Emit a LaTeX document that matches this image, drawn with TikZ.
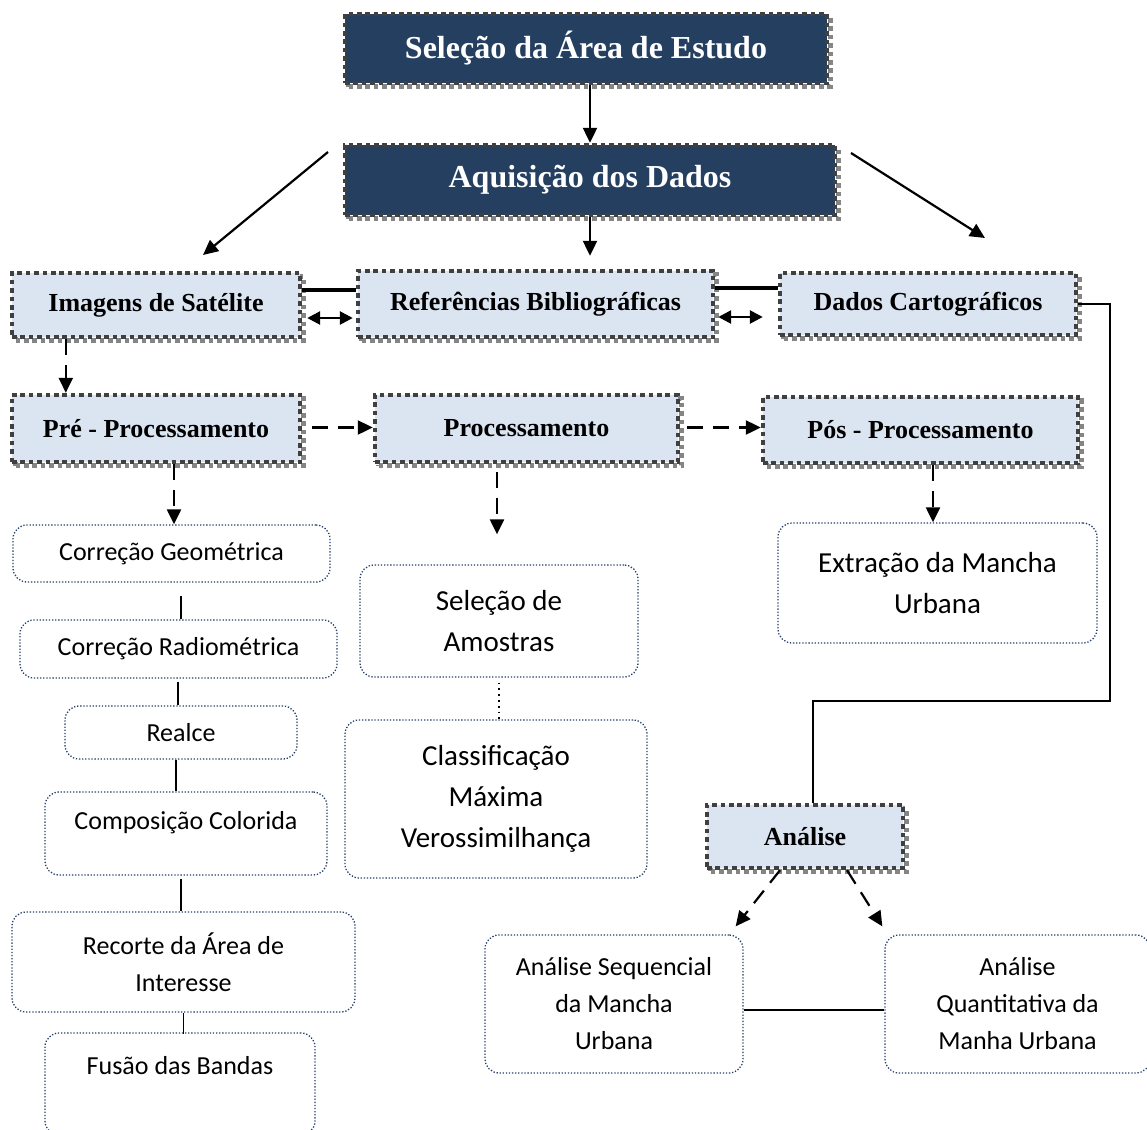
\documentclass[tikz,border=0pt]{standalone}
\usepackage{fontspec}
\setmainfont{Liberation Serif}
\newfontfamily\calib{Carlito}
\usetikzlibrary{arrows.meta, calc, positioning}

\definecolor{navy}{HTML}{243F60}
\definecolor{paleblue}{HTML}{DBE5F1}
\definecolor{framegray}{HTML}{404040}
\definecolor{shadegray}{HTML}{858585}
\definecolor{dotblue}{HTML}{243F6A}

\begin{document}
\begin{tikzpicture}[x=0.5pt, y=-0.5pt,
	stepframe/.style={rectangle, inner sep=0pt, draw=framegray, line width=2.2pt, dash pattern=on 2.3pt off 1.9pt,
		preaction={draw=shadegray, line width=2.2pt, dash pattern=on 2.3pt off 1.9pt, transform canvas={shift={(1.8pt,-1.8pt)}}}},
	darkbox/.style={stepframe, fill=navy, text=white, font=\bfseries\fontsize{16}{19}\selectfont},
	lightbox/.style={stepframe, fill=paleblue, font=\bfseries\fontsize{13}{15}\selectfont},
	taskbox/.style={rectangle, rounded corners=7pt, draw=dotblue, line width=0.65pt, dash pattern=on 0.65pt off 0.9pt,
		align=center, inner sep=0pt, font=\calib\fontsize{13}{18.5}\selectfont},
	bigtask/.style={taskbox, font=\calib\fontsize{14.5}{20.5}\selectfont},
	arr/.style={-{Triangle[length=7.5pt, width=7pt]}, line width=1.1pt},
	darr/.style={arr, dash pattern=on 8pt off 5pt},
	twoway/.style={{Triangle[length=6.5pt, width=6.5pt]}-{Triangle[length=6.5pt, width=6.5pt]}, line width=1.3pt},
	link/.style={line width=0.9pt}]

	\useasboundingbox (0, 0) rectangle (1147, 1130);

	% main chain
	\node[darkbox, minimum width=241pt, minimum height=34.5pt] (area) at (586, 48.5) {Seleção da Área de Estudo};
	\node[darkbox, minimum width=245pt, minimum height=35pt] (aquis) at (590, 180) {Aquisição dos Dados};

	\node[lightbox, minimum width=144pt, minimum height=32pt] (sat) at (156, 305) {Imagens de Satélite};
	\node[lightbox, minimum width=177.5pt, minimum height=33pt] (biblio) at (535.5, 304) {Referências Bibliográficas};
	\node[lightbox, minimum width=148pt, minimum height=31pt] (carto) at (928, 304) {Dados Cartográficos};

	\node[lightbox, minimum width=144pt, minimum height=33.5pt] (pre) at (156, 428.5) {Pré - Processamento};
	\node[lightbox, minimum width=151.5pt, minimum height=33.5pt] (proc) at (526.5, 428.5) {Processamento};
	\node[lightbox, minimum width=157.5pt, minimum height=33pt] (pos) at (920.5, 430) {Pós - Processamento};

	\node[lightbox, minimum width=98pt, minimum height=31.5pt] (analise) at (805, 836.5) {Análise};

	% pre-processing steps
	\node[taskbox, minimum width=158.5pt, minimum height=28.5pt] (geo) at (171.5, 553.5) {Correção Geométrica};
	\node[taskbox, minimum width=158.5pt, minimum height=29pt] (radio) at (178.5, 649) {Correção Radiométrica};
	\node[taskbox, minimum width=116pt, minimum height=26.5pt] (realce) at (181, 732.5) {Realce};
	\node[taskbox, minimum width=141pt, minimum height=41.5pt, text depth=13pt] (cores) at (186, 833.5) {Composição Colorida};
	\node[taskbox, minimum width=171.5pt, minimum height=50pt] (recorte) at (183.5, 962) {Recorte da Área de\\Interesse};
	\node[taskbox, minimum width=135pt, minimum height=51pt] (fusao) at (180, 1084) {Fusão das Bandas\\\mbox{}};

	% processing steps
	\node[bigtask, minimum width=139pt, minimum height=56pt] (amostras) at (499, 621) {Seleção de\\Amostras};
	\node[bigtask, minimum width=151pt, minimum height=79pt] (maxver) at (496, 799) {Classificação\\Máxima\\Verossimilhança};
	\node[bigtask, minimum width=159.5pt, minimum height=60pt] (mancha) at (937.5, 583) {Extração da Mancha\\Urbana};

	% analyses
	\node[taskbox, minimum width=129pt, minimum height=69pt] (seq) at (614, 1004) {Análise Sequencial\\da Mancha\\Urbana};
	\node[taskbox, minimum width=132.5pt, minimum height=69pt] (quant) at (1017.5, 1004) {Análise\\Quantitativa da\\Manha Urbana};

	\coordinate (aquisL) at (328, 152);
	\coordinate (satT) at (203, 255);
	\coordinate (aquisR) at (851, 153);
	\coordinate (cartoT) at (985, 238);
	\coordinate (bend) at (1110, 701);

	% connectors
	\draw[arr] (area.south -| aquis.north) -- (aquis.north);
	\draw[arr, shorten >=6.5pt] (aquis.south) -- (aquis.south |- biblio.north);
	\draw[arr] (aquisL) -- (satT);
	\draw[arr] (aquisR) -- (cartoT);

	\draw[line width=2pt] ($(sat.east)+(0,-15)$) -- ($(biblio.west)+(0,-14)$);
	\draw[twoway] ($(sat.east)+(5,13)$) -- ($(biblio.west)+(-3,14)$);
	\draw[line width=2pt] ($(biblio.east)+(0,-16)$) -- ($(carto.west)+(0,-16)$);
	\draw[twoway] ($(biblio.east)+(3,13)$) -- ($(carto.west)+(-15,13)$);

	\draw[darr] ($(sat.south west)+(56,0)$) -- ($(pre.north west)+(56,0)$);
	\draw[darr] ($(pre.east)+(10,-1)$) -- ($(proc.west)+(0,-1)$);
	\draw[darr] ($(proc.east)+(7,-1)$) -- ($(pos.west)+(0,-2.5)$);

	\draw[darr] ($(pre.south)+(18,0)$) -- ($(geo.north)+(2.5,0)$);
	\draw[link] ($(radio.north)+(2.5,0)$) -- ++(0, -23);
	\draw[link] ($(realce.north)+(-3,0)$) -- ++(0, -23);
	\draw[link] ($(realce.south)+(-5,0)$) -- ($(cores.north)+(-10,0)$);
	\draw[link] ($(cores.south)+(-5,3)$) -- ($(recorte.north)+(-2.5,0)$);
	\draw[link] ($(recorte.south)+(0,0)$) -- ($(fusao.north)+(3.5,2)$);

	\draw[darr, shorten >=15pt] ($(proc.south)+(-29.5,8)$) -- ($(amostras.north)+(-2,0)$);
	\draw[link, dotted] ($(amostras.south)+(0,5)$) -- ($(maxver.north)+(3,0)$);
	\draw[darr] ($(pos.south)+(12.5,0)$) -- ($(mancha.north)+(-4.5,0)$);

	\draw[link] (carto.east) -| (bend) -| ($(analise.north)+(8,0)$);
	\draw[darr] ($(analise.south)+(-25,0)$) -- ($(seq.north east)+(-8,-8)$);
	\draw[darr] ($(analise.south)+(42,0)$) -- ($(quant.north west)+(-2,-8)$);
	\draw[link] ($(seq.east)+(0,6)$) -- ($(quant.west)+(0,6)$);
\end{tikzpicture}
\end{document}
